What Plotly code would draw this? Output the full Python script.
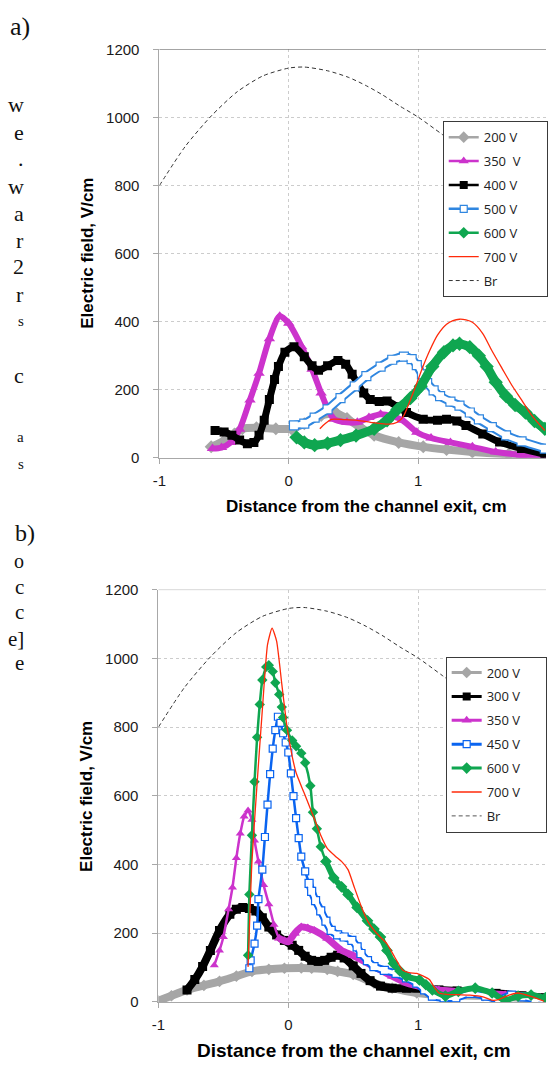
import plotly.graph_objects as go

W, H = 548, 1068

# ---------------- data: panel a ----------------
br_x = [-1.0, -0.8, -0.6, -0.4, -0.2, 0.0, 0.12, 0.3, 0.46, 0.6, 0.73, 0.86, 1.0, 1.19, 1.4, 1.6, 1.8, 2.0]
br_y = [800, 915, 1004, 1075, 1122, 1145, 1148, 1137, 1118, 1093, 1065, 1033, 1001, 949, 890, 830, 770, 710]

a200_x = [-0.6, -0.5, -0.42, -0.36, -0.25, -0.1, 0.02, 0.12, 0.25, 0.37, 0.45, 0.55, 0.66, 0.85, 1.04, 1.22, 1.42, 1.7, 1.98]
a200_y = [32, 50, 70, 85, 88, 85, 85, 100, 124, 130, 115, 90, 66, 45, 32, 24, 17, 10, 5]

a350_x = [-0.59, -0.52, -0.45, -0.38, -0.3, -0.23, -0.15, -0.07, 0.0, 0.1, 0.18, 0.25, 0.3, 0.35, 0.45, 0.53, 0.62, 0.71, 0.8, 0.88, 0.99, 1.1, 1.25, 1.42, 1.6, 1.8, 1.98]
a350_y = [27, 30, 45, 84, 170, 248, 350, 416, 395, 326, 260, 190, 145, 113, 104, 104, 118, 128, 122, 110, 75, 58, 45, 32, 17, 8, 2]

a400_x = [-0.57, -0.5, -0.44, -0.38, -0.32, -0.27, -0.23, -0.19, -0.15, -0.11, -0.08, -0.03, 0.04, 0.12, 0.18, 0.23, 0.3, 0.38, 0.44, 0.49, 0.53, 0.58, 0.63, 0.7, 0.76, 0.84, 0.91, 1.04, 1.15, 1.22, 1.3, 1.37, 1.5, 1.63, 1.8, 1.98]
a400_y = [80, 76, 66, 52, 41, 45, 66, 110, 171, 230, 268, 310, 326, 297, 270, 257, 270, 286, 275, 245, 219, 190, 171, 165, 167, 150, 133, 113, 110, 113, 108, 95, 70, 46, 27, 10]

a500_x = [0.04, 0.12, 0.2, 0.3, 0.4, 0.51, 0.6, 0.71, 0.8, 0.89, 0.95, 0.99, 1.03, 1.07, 1.12, 1.17, 1.25, 1.32, 1.4, 1.47, 1.57, 1.68, 1.8, 1.98]
a500_y = [95, 100, 118, 142, 175, 210, 240, 268, 288, 297, 290, 272, 245, 219, 198, 181, 165, 153, 133, 113, 90, 66, 48, 27]

a600_x = [0.06, 0.12, 0.2, 0.3, 0.4, 0.52, 0.66, 0.76, 0.84, 0.94, 1.02, 1.11, 1.2, 1.27, 1.32, 1.4, 1.47, 1.53, 1.6, 1.68, 1.75, 1.83, 1.9, 1.98]
a600_y = [60, 45, 37, 42, 52, 65, 85, 110, 142, 175, 210, 268, 310, 330, 335, 325, 300, 268, 222, 181, 155, 133, 108, 85]

a700_x = [0.24, 0.28, 0.33, 0.43, 0.53, 0.65, 0.75, 0.81, 0.86, 0.89, 0.94, 0.99, 1.04, 1.09, 1.15, 1.22, 1.27, 1.32, 1.37, 1.42, 1.5, 1.57, 1.65, 1.73, 1.8, 1.88, 1.98]
a700_y = [85, 100, 113, 112, 110, 103, 99, 100, 110, 124, 170, 219, 270, 315, 360, 392, 403, 407, 405, 398, 365, 315, 262, 210, 170, 124, 80]

# ---------------- data: panel b ----------------
b200_x = [-1.0, -0.9, -0.78, -0.65, -0.53, -0.4, -0.28, -0.15, -0.03, 0.1, 0.18, 0.3, 0.38, 0.5, 0.66, 0.8, 0.99, 1.2, 1.5, 1.8, 1.98]
b200_y = [3, 18, 35, 48, 60, 75, 89, 95, 98, 99, 98, 95, 89, 80, 55, 40, 26, 20, 18, 12, 8]

b300_x = [-0.78, -0.72, -0.66, -0.6, -0.53, -0.45, -0.4, -0.35, -0.3, -0.25, -0.2, -0.15, -0.09, -0.03, 0.03, 0.08, 0.13, 0.18, 0.23, 0.28, 0.33, 0.38, 0.43, 0.5, 0.56, 0.63, 0.71, 0.8, 0.91, 1.05, 1.16, 1.3, 1.45, 1.6, 1.8, 1.98]
b300_y = [35, 65, 103, 150, 208, 255, 270, 275, 272, 265, 245, 218, 195, 179, 165, 150, 133, 121, 118, 121, 130, 136, 128, 105, 83, 62, 46, 40, 40, 37, 35, 32, 28, 25, 18, 12]

b350_x = [-0.57, -0.53, -0.5, -0.46, -0.43, -0.4, -0.37, -0.34, -0.31, -0.28, -0.26, -0.23, -0.19, -0.15, -0.11, -0.07, -0.03, 0.0, 0.05, 0.1, 0.15, 0.2, 0.3, 0.41, 0.5, 0.66, 0.8, 0.91, 1.05, 1.16, 1.3, 1.41, 1.55, 1.67, 1.8, 1.98]
b350_y = [107, 150, 189, 270, 333, 419, 490, 540, 557, 530, 470, 409, 340, 284, 225, 185, 178, 175, 200, 218, 215, 208, 185, 150, 135, 103, 75, 55, 42, 35, 30, 26, 24, 21, 15, 8]

b450_x = [-0.3, -0.29, -0.26, -0.24, -0.23, -0.2, -0.18, -0.16, -0.14, -0.12, -0.1, -0.08, -0.06, -0.04, -0.02, 0.0, 0.02, 0.04, 0.06, 0.08, 0.1, 0.13, 0.16, 0.18, 0.21, 0.25, 0.29, 0.33, 0.38, 0.43, 0.49, 0.53, 0.56, 0.61, 0.66, 0.74, 0.83, 0.91, 0.99, 1.05, 1.11, 1.2, 1.29, 1.4, 1.52, 1.62, 1.72, 1.8, 1.9, 1.98]
b450_y = [98, 121, 170, 222, 299, 385, 480, 574, 663, 737, 791, 830, 812, 782, 755, 726, 665, 599, 535, 477, 423, 380, 345, 322, 295, 265, 235, 208, 195, 189, 179, 160, 141, 120, 103, 92, 83, 70, 55, 35, 17, 12, 12, 25, 17, 7, 20, 15, 8, 5]

b600_x = [-0.31, -0.3, -0.28, -0.26, -0.24, -0.22, -0.2, -0.17, -0.15, -0.12, -0.1, -0.07, -0.05, -0.04, -0.01, 0.03, 0.06, 0.1, 0.13, 0.17, 0.19, 0.22, 0.25, 0.29, 0.35, 0.41, 0.46, 0.53, 0.61, 0.66, 0.71, 0.76, 0.81, 0.86, 0.91, 1.01, 1.06, 1.11, 1.21, 1.31, 1.44, 1.57, 1.67, 1.77, 1.87, 1.98]
b600_y = [136, 313, 485, 641, 770, 866, 937, 975, 980, 962, 929, 895, 858, 828, 791, 761, 744, 724, 696, 629, 552, 504, 452, 409, 361, 335, 313, 275, 236, 212, 189, 150, 112, 90, 74, 64, 50, 35, 17, 31, 40, 26, 5, 17, 20, 12]

b700_x = [-0.31, -0.28, -0.24, -0.2, -0.16, -0.125, -0.09, -0.05, -0.01, 0.03, 0.06, 0.12, 0.19, 0.25, 0.3, 0.36, 0.41, 0.46, 0.51, 0.56, 0.61, 0.68, 0.76, 0.82, 0.88, 0.93, 0.99, 1.04, 1.09, 1.12, 1.16, 1.22, 1.31, 1.4, 1.5, 1.57, 1.62, 1.7, 1.77, 1.87, 1.97]
b700_y = [102, 409, 638, 850, 1040, 1088, 1050, 925, 801, 715, 667, 610, 543, 485, 447, 425, 409, 385, 332, 280, 236, 200, 169, 130, 93, 85, 83, 75, 64, 45, 26, 22, 21, 20, 15, 5, 7, 20, 26, 16, 2]

y_ticks = [0, 200, 400, 600, 800, 1000, 1200]
x_ticks = [-1, 0, 1, 2]
x_ticktext = ["-1", "0", "1", "2"]

legend_a = ["200 V", "350\u00a0 V", "400 V", "500 V", "600 V", "700 V", "Br"]
legend_b = ["200 V", "300 V", "350 V", "450 V", "600 V", "700 V", "Br"]

# ---------------- styles ----------------
GRAY = "#a6a6a6"
MAG = "#cc33cc"
BLK = "#000000"
BLUE_A = "#2f86e0"
BLUE_B = "#0a64f0"
GREEN = "#0fa650"
RED = "#ff2a0a"

fig = go.Figure()


def add(x, y, xa, ya, color, width, symbol=None, msize=0, mfill=None, mline=None, dash=None, smooth=0.7):
    mode = "lines+markers" if symbol else "lines"
    kw = dict(x=x, y=y, xaxis=xa, yaxis=ya, mode=mode, showlegend=False, hoverinfo="skip",
              line=dict(color=color, width=width, shape="spline", smoothing=smooth, dash=dash),
              cliponaxis=True)
    if symbol:
        kw["marker"] = dict(symbol=symbol, size=msize, color=mfill or color,
                            line=dict(color=mline or color, width=1.2 if mline else 0))
    fig.add_trace(go.Scatter(**kw))


def leg(name, legend, color, width, symbol=None, msize=0, mfill=None, mline=None, dash=None, xa="x", ya="y"):
    mode = "lines+markers" if symbol else "lines"
    kw = dict(x=[None], y=[None], xaxis=xa, yaxis=ya, mode=mode, name=name, legend=legend,
              legendgroup=legend + name, showlegend=True,
              line=dict(color=color, width=width, dash=dash))
    if symbol:
        kw["marker"] = dict(symbol=symbol, size=msize, color=mfill or color,
                            line=dict(color=mline or color, width=1.2 if mline else 0))
    fig.add_trace(go.Scatter(**kw))


def tail(xs, ys, x0):
    idx = [i for i, v in enumerate(xs) if v >= x0]
    return [xs[i] for i in idx], [ys[i] for i in idx]


# panel a
add(br_x, br_y, "x", "y", "#333333", 1, dash="4px,3px")
add(a200_x, a200_y, "x", "y", GRAY, 8, "diamond", 10)
add(a350_x, a350_y, "x", "y", MAG, 6, "triangle-up", 10)
add(a400_x, a400_y, "x", "y", BLK, 7, "square", 9)
add(a500_x, a500_y, "x", "y", BLUE_A, 9, "square", 9, mfill="white", mline=BLUE_A)
add(a500_x, a500_y, "x", "y", "white", 5)
add(a600_x, a600_y, "x", "y", GREEN, 9, "diamond", 11)
add(a700_x, a700_y, "x", "y", RED, 1.3)

# panel b
add(br_x, br_y, "x2", "y2", "#333333", 1, dash="4px,3px")
add(b200_x, b200_y, "x2", "y2", GRAY, 8, "diamond", 9)
add(b300_x, b300_y, "x2", "y2", BLK, 8, "square", 9)
add(b350_x, b350_y, "x2", "y2", MAG, 2.5, "triangle-up", 8, smooth=0.5)
tx, ty = tail(b350_x, b350_y, -0.07)
add(tx, ty, "x2", "y2", MAG, 7, "triangle-up", 9, smooth=0.5)
add(b450_x, b450_y, "x2", "y2", BLUE_B, 2.5, "square", 7, mfill="white", mline=BLUE_B, smooth=0.5)
tx, ty = tail(b450_x, b450_y, 0.16)
add(tx, ty, "x2", "y2", BLUE_B, 8, "square", 8, mfill="white", mline=BLUE_B, smooth=0.5)
add(tx, ty, "x2", "y2", "white", 4, smooth=0.5)
add(b600_x, b600_y, "x2", "y2", GREEN, 2.5, "diamond", 8, smooth=0.5)
tx, ty = tail(b600_x, b600_y, 0.29)
add(tx, ty, "x2", "y2", GREEN, 6, "diamond", 9, smooth=0.5)
add(b700_x, b700_y, "x2", "y2", RED, 1.3, smooth=0.5)

# legend entries
styles_a = [(GRAY, 2.5, "diamond", 9, None, None, None),
            (MAG, 2.5, "triangle-up", 9, None, None, None),
            (BLK, 2.5, "square", 8, None, None, None),
            (BLUE_A, 2.5, "square", 7, "white", BLUE_A, None),
            (GREEN, 2.5, "diamond", 9, None, None, None),
            (RED, 1.3, None, 0, None, None, None),
            ("#333333", 1, None, 0, None, None, "4px,3px")]
styles_b = [(GRAY, 3, "diamond", 9, None, None, None),
            (BLK, 3, "square", 8, None, None, None),
            (MAG, 3, "triangle-up", 9, None, None, None),
            (BLUE_B, 3, "square", 7, "white", BLUE_B, None),
            (GREEN, 3, "diamond", 9, None, None, None),
            (RED, 1.3, None, 0, None, None, None),
            ("#555555", 1, None, 0, None, None, "4px,3px")]
PAD = "\u00a0" * 6
for i, (name, s) in enumerate(zip(legend_a, styles_a)):
    c, w, sym, ms, mf, ml, d = s
    leg(name + (PAD if i == 1 else ""), "legend", c, w, sym, ms, mf, ml, d, "x", "y")
for i, (name, s) in enumerate(zip(legend_b, styles_b)):
    c, w, sym, ms, mf, ml, d = s
    leg(name + (PAD if i == 0 else ""), "legend2", c, w, sym, ms, mf, ml, d, "x2", "y2")

# ---------------- layout ----------------
def px_x(p):
    return p / W


def px_y(p):
    return 1 - p / H


TICKFONT = dict(family="Liberation Sans, Arial", size=15, color="#1a1a1a")
axis_common = dict(showline=True, linecolor="#a8a8a8", linewidth=1, ticks="outside", ticklen=5,
                   tickcolor="#a8a8a8", showgrid=True, gridcolor="#cccccc", griddash="3px,3px",
                   gridwidth=1, zeroline=False, tickfont=TICKFONT, fixedrange=True)
XSO = dict(ticklabelstandoff=4)
YSO = dict(ticklabelstandoff=11)

fig.update_layout(
    width=W, height=H, margin=dict(l=0, r=0, t=0, b=0),
    paper_bgcolor="white", plot_bgcolor="white",
    xaxis=dict(domain=[px_x(155), 1.0], range=[-1, 1.989], anchor="y",
               tickvals=x_ticks, ticktext=x_ticktext, **axis_common, **XSO),
    yaxis=dict(domain=[px_y(456), px_y(41)], range=[0, 1200], anchor="x",
               tickvals=y_ticks, **axis_common, **YSO),
    xaxis2=dict(domain=[px_x(154), 1.0], range=[-1, 1.985], anchor="y2",
                tickvals=x_ticks, ticktext=x_ticktext, **axis_common, **XSO),
    yaxis2=dict(domain=[px_y(1009), px_y(590)], range=[0, 1200], anchor="x2",
                tickvals=y_ticks, **axis_common, **YSO),
    legend=dict(x=px_x(443), y=px_y(114), xanchor="left", yanchor="top", bgcolor="white",
                bordercolor="#3a3a3a", borderwidth=1, traceorder="grouped", tracegroupgap=4,
                font=dict(family="Open Sans", size=13, color="#222222")),
    legend2=dict(x=px_x(446), y=px_y(658), xanchor="left", yanchor="top", bgcolor="white",
                 bordercolor="#3a3a3a", borderwidth=1, traceorder="grouped", tracegroupgap=4,
                 font=dict(family="Open Sans", size=13, color="#222222")),
    showlegend=True,
)

# top border lines
fig.add_shape(type="line", xref="paper", yref="y", x0=px_x(155), x1=1, y0=1200, y1=1200,
              line=dict(color="#707070", width=1))
fig.add_shape(type="line", xref="paper", yref="y2", x0=px_x(154), x1=1, y0=1200, y1=1200,
              line=dict(color="#b8b8b8", width=1))

TITLEFONT = dict(family="Liberation Sans, Arial", size=17, color="#000000")
TITLEFONT_B = dict(family="Liberation Sans, Arial", size=19, color="#000000")
ann = []
ann.append(dict(text="<b>Electric field, V/cm</b>", x=px_x(81), y=px_y(248), xref="paper", yref="paper",
                textangle=-90, xanchor="center", yanchor="middle", showarrow=False, font=TITLEFONT))
ann.append(dict(text="<b>Electric field, V/cm</b>", x=px_x(81), y=px_y(800), xref="paper", yref="paper",
                textangle=-90, xanchor="center", yanchor="middle", showarrow=False, font=TITLEFONT))
ann.append(dict(text="<b>Distance from the channel exit, cm</b>", x=px_x(366), y=px_y(506), xref="paper",
                yref="paper", xanchor="center", yanchor="middle", showarrow=False, font=TITLEFONT))
ann.append(dict(text="<b>Distance from the channel exit, cm</b>", x=px_x(353), y=px_y(1058), xref="paper",
                yref="paper", xanchor="center", yanchor="middle", showarrow=False, font=TITLEFONT_B))
ann.append(dict(text="2", x=2.0, xref="x", y=px_y(479), yref="paper", xanchor="center", yanchor="middle",
                showarrow=False, font=TICKFONT))

ann.append(dict(text="a)", x=px_x(1), y=px_y(18), xref="paper", yref="paper", xanchor="left",
                yanchor="middle", showarrow=False,
                font=dict(family="Liberation Serif, Times New Roman", size=26, color="#111111")))
ann.append(dict(text="b)", x=px_x(6), y=px_y(532), xref="paper", yref="paper", xanchor="left",
                yanchor="middle", showarrow=False,
                font=dict(family="Liberation Serif, Times New Roman", size=24, color="#111111")))
frag_text = ["w", "e", ".", "w", "a", "r", "2", "r", "s", "c", "a", "s", "o", "c", "c", "e]", "e"]
frag_y = [97, 125, 152, 180, 208, 235, 262, 290, 317, 372, 435, 462, 561, 587, 613, 640, 665]
frag_size = [22, 22, 22, 22, 22, 22, 22, 22, 15, 22, 15, 15, 20, 21, 21, 21, 21]
for t, yy, fs in zip(frag_text, frag_y, frag_size):
    ann.append(dict(text=t, x=px_x(19), y=px_y(yy), xref="paper", yref="paper", xanchor="right",
                    yanchor="middle", showarrow=False,
                    font=dict(family="Liberation Serif", size=fs, color="#111111")))
fig.update_layout(annotations=ann)

fig.write_html("out.html")
